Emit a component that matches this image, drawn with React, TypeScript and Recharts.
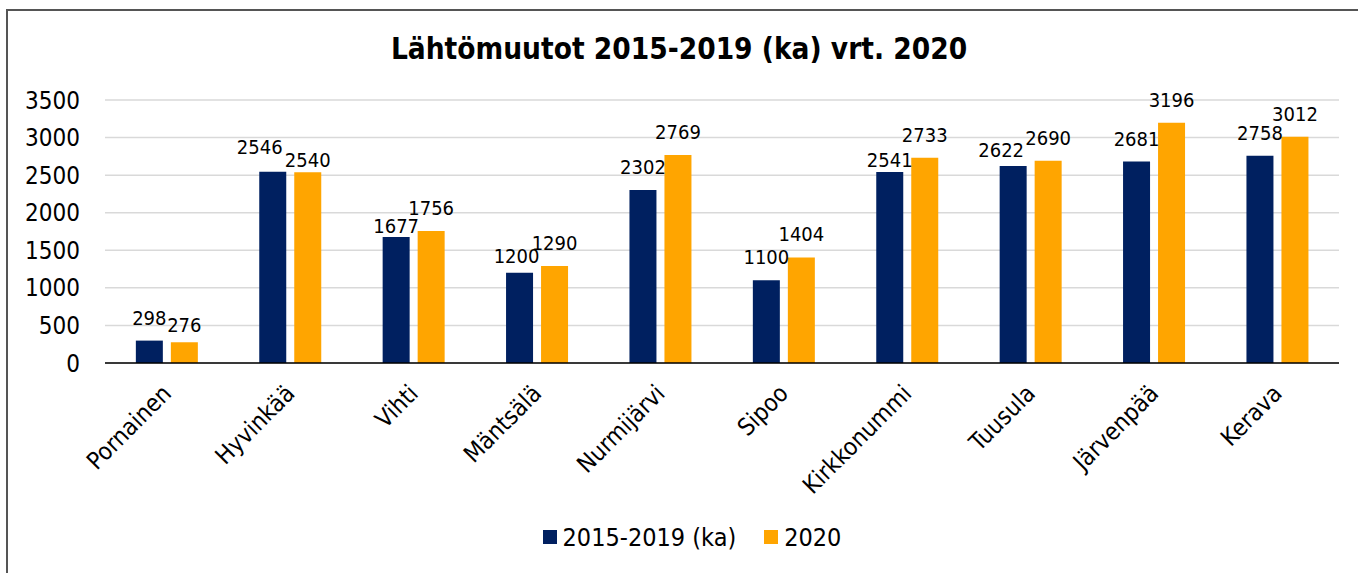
import React from "react";
import { BarChart, Bar, XAxis, YAxis, CartesianGrid, Legend, LabelList } from "recharts";

const categories = ["Pornainen", "Hyvinkää", "Vihti", "Mäntsälä", "Nurmijärvi", "Sipoo", "Kirkkonummi", "Tuusula", "Järvenpää", "Kerava"];
const avg20152019 = [298, 2546, 1677, 1200, 2302, 1100, 2541, 2622, 2681, 2758];
const y2020 = [276, 2540, 1756, 1290, 2769, 1404, 2733, 2690, 3196, 3012];
const yTicks = [0, 500, 1000, 1500, 2000, 2500, 3000, 3500];
const seriesNames = ["2015-2019 (ka)", "2020"];
const colors = ["#002060", "#FFA500"];

// label nudges (dx, dy in px) mimicking the manually placed data labels
const nudgeA: [number, number][] = [[0, 0], [-13, -2], [0, 12], [-3, 6], [0, 0], [0, 0], [0, 11], [-12, 7], [0, 0], [0, 0]];
const nudgeB: [number, number][] = [[0, 6], [0, 11], [0, 0], [0, 0], [0, 0], [0, 0], [0, 0], [0, 0], [0, 0], [0, 0]];

const data = categories.map((c, i) => ({ name: c, a: avg20152019[i], b: y2020[i] }));

const FONT = "'DejaVu Sans Condensed', 'DejaVu Sans', sans-serif";

const XTick = (props: any) => {
  const { x, y, payload } = props;
  const tx = x + 6;
  const ty = y + 24;
  return (
    <text
      x={tx}
      y={ty}
      textAnchor="end"
      fontSize={24}
      fontFamily={FONT}
      fill="#000"
      transform={`rotate(-45, ${tx}, ${ty})`}
    >
      {payload.value}
    </text>
  );
};

const makeLabel = (nudge: [number, number][]) => (props: any) => {
  const { x, y, width, value, index } = props;
  const [dx, dy] = nudge[index] || [0, 0];
  return (
    <text x={x + width / 2 + dx} y={y - 16 + dy} textAnchor="middle" fontSize={20} fontFamily={FONT} fill="#000">
      {value}
    </text>
  );
};

const LegendContent = () => (
  <div style={{ display: "flex", justifyContent: "center", alignItems: "center", height: 30, fontFamily: FONT, fontSize: 25, color: "#000" }}>
    {seriesNames.map((n, i) => (
      <div key={n} style={{ display: "flex", alignItems: "center", marginRight: i === 0 ? 28 : 0 }}>
        <span style={{ display: "inline-block", width: 14, height: 14, background: colors[i], marginRight: 6 }} />
        <span>{n}</span>
      </div>
    ))}
  </div>
);

export default function App() {
  return (
    <div style={{ position: "absolute", left: 0, top: 0, width: 1358, height: 573, background: "#fff", overflow: "hidden", fontFamily: FONT }}>
      <div style={{ position: "absolute", left: 6, top: 9, width: 1400, height: 600, border: "2.5px solid #555", boxSizing: "border-box" }} />
      <div style={{ position: "absolute", left: 0, top: 32, width: 1358, textAlign: "center", fontWeight: "bold", fontSize: 29.5, color: "#000", fontFamily: FONT }}>
        Lähtömuutot 2015-2019 (ka) vrt. 2020
      </div>
      <div style={{ position: "absolute", left: 0, top: 0 }}>
        <BarChart
          width={1358}
          height={573}
          data={data}
          margin={{ top: 100, right: 19, left: 45, bottom: 21 }}
          barCategoryGap="25%"
          barGap={8}
        >
          <CartesianGrid vertical={false} stroke="#d9d9d9" strokeWidth={1.5} />
          <XAxis dataKey="name" interval={0} tick={<XTick />} tickLine={false} axisLine={{ stroke: "#000", strokeWidth: 1.5 }} height={159} />
          <YAxis ticks={yTicks} domain={[0, 3500]} axisLine={false} tickLine={false} tickSize={0} tickMargin={25} width={60}
            tick={{ fontSize: 24, fill: "#000", fontFamily: FONT }} />
          <Legend verticalAlign="bottom" content={<LegendContent />} />
          <Bar dataKey="a" name={seriesNames[0]} fill={colors[0]} isAnimationActive={false}>
            <LabelList dataKey="a" content={makeLabel(nudgeA)} />
          </Bar>
          <Bar dataKey="b" name={seriesNames[1]} fill={colors[1]} isAnimationActive={false}>
            <LabelList dataKey="b" content={makeLabel(nudgeB)} />
          </Bar>
        </BarChart>
      </div>
    </div>
  );
}
